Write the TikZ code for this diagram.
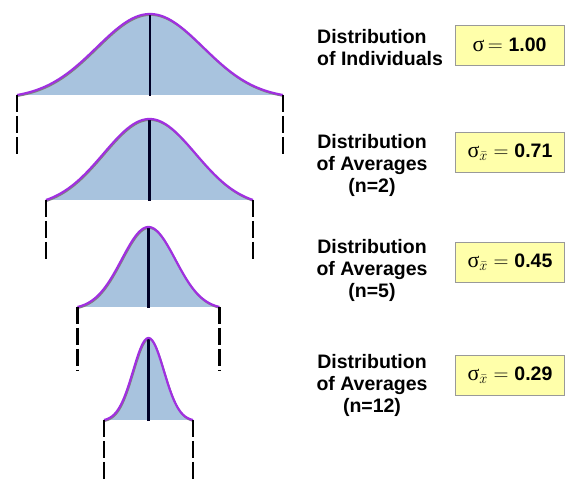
\documentclass[tikz,border=0pt]{standalone}
\usepackage[no-math]{fontspec}
\setmainfont{Liberation Sans}
\newfontfamily\serifgr{Liberation Serif}
\definecolor{curvefill}{HTML}{A8C3DE}
\definecolor{curvepurple}{HTML}{A030E0}
\definecolor{boxyellow}{HTML}{FFFFAA}
\tikzset{
  bellfill/.style={fill=curvefill},
  bellline/.style={draw=curvepurple, line width=2.2pt},
  bellshadow/.style={draw=black!50, line width=1.6pt},
  meanline/.style={draw=black!85!blue, line width=2.4pt},
  tailline/.style={draw=black, line width=2.3pt, dash pattern=on 17pt off 4pt},
  lbl/.style={font=\fontsize{19.5}{22}\selectfont\bfseries, inner sep=0pt},
  sdbox/.style={draw=black!40, fill=boxyellow, minimum width=109pt, minimum height=40pt, inner sep=0pt, font=\fontsize{19.5}{22}\selectfont\bfseries},
}
\newcommand\sgm{{\serifgr\mdseries\fontsize{22}{22}\selectfont σ}}
% #1 cx, #2 baseline, #3 height, #4 half width, #5 width/sigma ratio, #6 tail length
\newcommand\bellc[6]{%
  \pgfmathsetmacro\gw{exp(-((#5)^2)/2)}%
  \fill[bellfill] plot[domain=-1:1,samples=120,smooth] ({#1+#4*\x},{#2-#3*(exp(-((#5*\x)^2)/2)-\gw)/(1-\gw)}) -- cycle;
  \draw[bellshadow] plot[domain=-1:1,samples=120,smooth] ({#1+#4*\x+0.6},{#2+1.1-#3*(exp(-((#5*\x)^2)/2)-\gw)/(1-\gw)});
  \draw[meanline] (#1,#2-#3) -- (#1,#2+1);
  \draw[bellline] plot[domain=-1:1,samples=120,smooth] ({#1+#4*\x},{#2-#3*(exp(-((#5*\x)^2)/2)-\gw)/(1-\gw)});
  \draw[tailline] (#1-#4,#2) -- ++(0,#6);
  \draw[tailline] (#1+#4,#2) -- ++(0,#6);
}
\begin{document}
\begin{tikzpicture}[x=1pt,y=-1pt]
\useasboundingbox (0,0) rectangle (566,481);
\bellc{150}{95}{81}{133}{2.5}{62}
\bellc{149.5}{200}{81}{103.5}{2.25}{62}
\bellc{148.5}{307}{80}{71}{2.65}{64}
\bellc{148.5}{420}{82}{44.5}{2.9}{64}

\node[lbl, align=left, anchor=west] (l1) at (317,47.5) {Distribution\\of Individuals};
\node[lbl, align=center] (l2) at (372,165) {Distribution\\of Averages\\(n=2)};
\node[lbl, align=center] (l3) at (372,270) {Distribution\\of Averages\\(n=5)};
\node[lbl, align=center] (l4) at (372,385) {Distribution\\of Averages\\(n=12)};

\node[sdbox] (b1) at (509.5,45) {\sgm$\,={}$1.00};
\node[sdbox] (b2) at (510,152) {\sgm${}_{\bar{x}}={}$0.71};
\node[sdbox] (b3) at (510,262.5) {\sgm${}_{\bar{x}}={}$0.45};
\node[sdbox] (b4) at (510,375.5) {\sgm${}_{\bar{x}}={}$0.29};
\end{tikzpicture}
\end{document}
